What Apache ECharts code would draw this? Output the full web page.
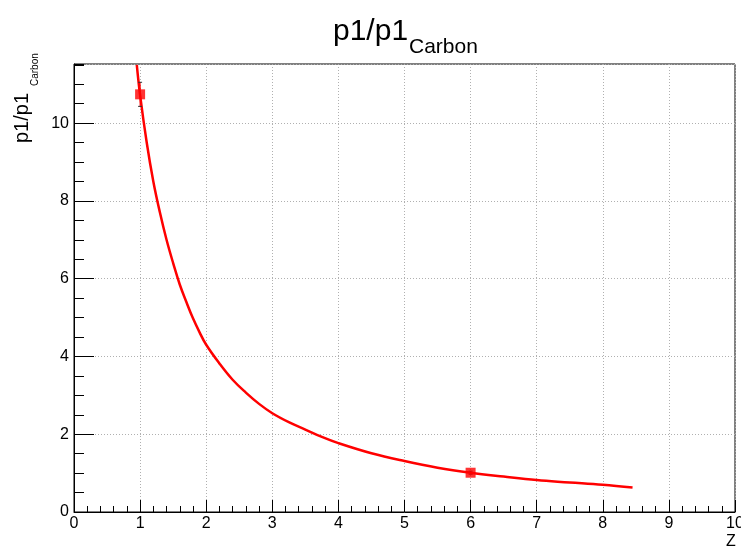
<!DOCTYPE html>
<html>
<head>
<meta charset="utf-8">
<script src="https://cdn.jsdelivr.net/npm/echarts@6/dist/echarts.min.js"></script>
<style>html,body{margin:0;padding:0;background:#fff;}#c{width:741px;height:549px;}</style>
</head>
<body>
<div id="c"></div>
<script>
// ---- data ----
const curveX = [0.95, 1.0, 1.1, 1.2, 1.3, 1.4, 1.5, 1.6, 1.7, 1.8, 1.9, 2.0, 2.2, 2.4, 2.6, 2.8, 3.0, 3.25, 3.5, 3.75, 4.0, 4.5, 5.0, 5.5, 6.0, 6.5, 7.0, 7.5, 8.0, 8.45];
const curveY = [11.5, 10.72, 9.5, 8.5, 7.7, 7.0, 6.4, 5.85, 5.4, 4.98, 4.62, 4.3, 3.82, 3.40, 3.07, 2.78, 2.54, 2.31, 2.12, 1.93, 1.77, 1.51, 1.31, 1.14, 1.01, 0.91, 0.82, 0.76, 0.70, 0.63];
const pointX = [1, 6];
const pointY = [10.74, 1.01];
const pointErr = [0.31, 0.04];
const xTicks = [0, 1, 2, 3, 4, 5, 6, 7, 8, 9, 10];
const yTicks = [0, 2, 4, 6, 8, 10];
const titleMain = 'p1/p1';
const titleSub = 'Carbon';
const xName = 'Z';

const FONT = 'Liberation Sans';
const chart = echarts.init(document.getElementById('c'), null, {renderer: 'canvas'});
const curve = curveX.map((x, i) => [x, curveY[i]]);
const pts = pointX.map((x, i) => [x, pointY[i], pointErr[i]]);
const dotted = {show: true, lineStyle: {color: '#b0b0b0', type: [1, 2], width: 1}};

chart.setOption({
  animation: false,
  backgroundColor: '#fff',
  grid: {left: 74, right: 6, top: 64, bottom: 37, containLabel: false, outerBoundsMode: 'none',
    show: true, borderColor: '#000', borderWidth: 1, backgroundColor: 'transparent'},
  xAxis: [{
    type: 'value', min: xTicks[0], max: xTicks[xTicks.length - 1], interval: 1,
    axisLine: {show: true, onZero: false, lineStyle: {color: '#000', width: 1}},
    axisTick: {show: true, inside: true, length: 12, lineStyle: {color: '#000'}},
    minorTick: {show: true, splitNumber: 5, length: 6, lineStyle: {color: '#000'}},
    splitLine: dotted,
    axisLabel: {color: '#000', fontFamily: FONT, fontSize: 16, margin: 4, hideOverlap: false}
  }],
  yAxis: [{
    type: 'value', position: 'left', min: yTicks[0], max: 11.52, interval: 2,
    axisLine: {show: true, onZero: false, lineStyle: {color: '#000', width: 1}},
    axisTick: {show: true, inside: true, length: 20, lineStyle: {color: '#000'}},
    minorTick: {show: false},
    splitLine: dotted,
    axisLabel: {color: '#000', fontFamily: FONT, fontSize: 16, margin: 5, showMaxLabel: false}
  }, {
    type: 'value', position: 'left', min: 0, max: 11.52, interval: 0.5,
    axisLine: {show: false},
    axisTick: {show: true, inside: true, length: 10, lineStyle: {color: '#000'}},
    axisLabel: {show: false},
    splitLine: {show: false}
  }],
  graphic: [
    {type: 'text', left: 333, top: 17, z: 10, style: {text: titleMain, font: '30px "Liberation Sans"', fill: '#000'}},
    {type: 'text', left: 409, top: 37, z: 10, style: {text: titleSub, font: '21px "Liberation Sans"', fill: '#000'}},
    {type: 'text', x: 22, y: 143, rotation: Math.PI / 2, z: 10,
      style: {text: titleMain, font: '20px "Liberation Sans"', fill: '#000', align: 'left', verticalAlign: 'middle'}},
    {type: 'text', x: 35, y: 86, rotation: Math.PI / 2, z: 10,
      style: {text: titleSub, font: '10px "Liberation Sans"', fill: '#000', align: 'left', verticalAlign: 'middle'}},
    {type: 'text', x: 731, y: 542, z: 10,
      style: {text: xName, font: '16px "Liberation Sans"', fill: '#000', align: 'center', verticalAlign: 'middle'}}
  ],
  series: [{
    type: 'line', data: curve, xAxisIndex: 0, yAxisIndex: 0,
    showSymbol: false, smooth: 0.4, clip: true,
    lineStyle: {color: '#ff0000', width: 2.5}, z: 2
  }, {
    type: 'custom', data: pts, xAxisIndex: 0, yAxisIndex: 0, z: 3,
    renderItem: function (params, api) {
      const x = api.value(0), y = api.value(1), e = api.value(2);
      const lo = api.coord([x, y - e]);
      const hi = api.coord([x, y + e]);
      return {type: 'group', children: [
        {type: 'line', shape: {x1: lo[0], y1: lo[1], x2: hi[0], y2: hi[1]}, style: {stroke: '#ff0000', lineWidth: 1}},
        {type: 'line', shape: {x1: lo[0] - 2, y1: lo[1], x2: lo[0] + 2, y2: lo[1]}, style: {stroke: '#333', lineWidth: 1}},
        {type: 'line', shape: {x1: hi[0] - 2, y1: hi[1], x2: hi[0] + 2, y2: hi[1]}, style: {stroke: '#333', lineWidth: 1}}
      ]};
    }
  }, {
    type: 'scatter', data: pts, xAxisIndex: 0, yAxisIndex: 0, z: 4,
    symbol: 'rect', symbolSize: 10, itemStyle: {color: '#ff0000'}
  }]
});
</script>
</body>
</html>
